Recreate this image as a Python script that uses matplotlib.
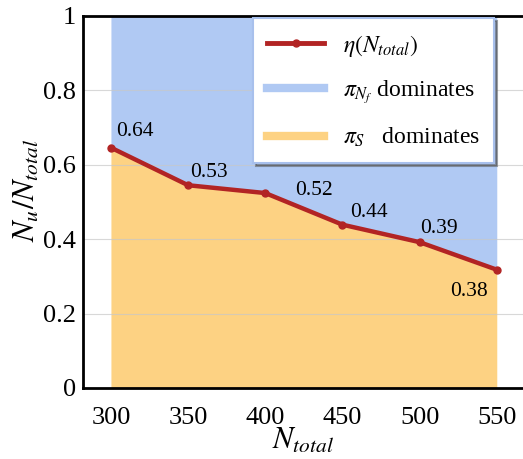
import numpy as np
import matplotlib
matplotlib.use("Agg")
import matplotlib.pyplot as plt
from matplotlib.lines import Line2D

plt.rcParams['font.family'] = 'serif'
plt.rcParams['font.serif'] = ['Liberation Serif', 'DejaVu Serif']
plt.rcParams['mathtext.fontset'] = 'stix'

n_total = [300, 350, 400, 450, 500, 550]
eta = [0.646, 0.545, 0.524, 0.439, 0.392, 0.318]
labels = ['0.64', '0.53', '0.52', '0.44', '0.39', '0.38']
yticks = [0, 0.2, 0.4, 0.6, 0.8, 1]
ytick_labels = ['0', '0.2', '0.4', '0.6', '0.8', '1']

blue = '#b0c9f3'
orange = '#fdd283'
red = '#b22424'

fig = plt.figure(figsize=(5.23, 4.59), dpi=100)
ax = fig.add_axes([0.159, 0.1547, 0.841, 0.8105])

ax.fill_between(n_total, 0, eta, color=orange, lw=0, zorder=1)
ax.fill_between(n_total, eta, 1, color=blue, lw=0, zorder=1)
for y in [0.2, 0.4, 0.6, 0.8]:
    ax.axhline(y, color='#c8c8c8', lw=0.8, alpha=0.7, zorder=1.5)
ax.plot(n_total, eta, color=red, lw=3.2, marker='o', ms=5, zorder=3)

# label offsets in points
offsets = [(17, 12), (15, 9), (35, 2), (19, 9), (14, 10), (-20, -16)]
for x, y, t, (dx, dy) in zip(n_total, eta, labels, offsets):
    ax.annotate(t, (x, y), xytext=(dx, dy), textcoords='offset points',
                ha='center', va='center', fontsize=15.5, zorder=4)

ax.set_xlim(282, 567)
ax.set_ylim(0, 1)
ax.set_xticks(n_total)
ax.set_yticks(yticks)
ax.set_yticklabels(ytick_labels)
ax.tick_params(labelsize=19, length=0)
ax.tick_params(axis='y', pad=5)
ax.tick_params(axis='x', pad=14)
ax.set_xlabel(r'$N_{total}$', fontsize=22, labelpad=-2)
ax.set_ylabel(r'$N_u/N_{total}$', fontsize=22)
ax.yaxis.set_label_coords(-0.095, 0.53)
for s in ['left', 'bottom', 'top']:
    ax.spines[s].set_linewidth(2)
    ax.spines[s].set_color('black')
ax.spines['right'].set_visible(False)

handles = [
    Line2D([], [], color=red, lw=3.5, marker='o', ms=5),
    Line2D([], [], color=blue, lw=6),
    Line2D([], [], color=orange, lw=6),
]
names = [r'$\eta(N_{total})$', r'$\pi_{N_f}$ dominates', r'$\pi_S$   dominates']
leg = ax.legend(handles, names, loc='upper right', bbox_to_anchor=(0.94, 1.0),
                fontsize=17, frameon=True, fancybox=False, shadow=True,
                borderpad=0.6, labelspacing=0.85, handlelength=2.4,
                borderaxespad=0.1)
leg.get_frame().set_edgecolor('#a8c0ec')
leg.get_frame().set_linewidth(1.5)

fig.savefig('out.png', dpi=100)
